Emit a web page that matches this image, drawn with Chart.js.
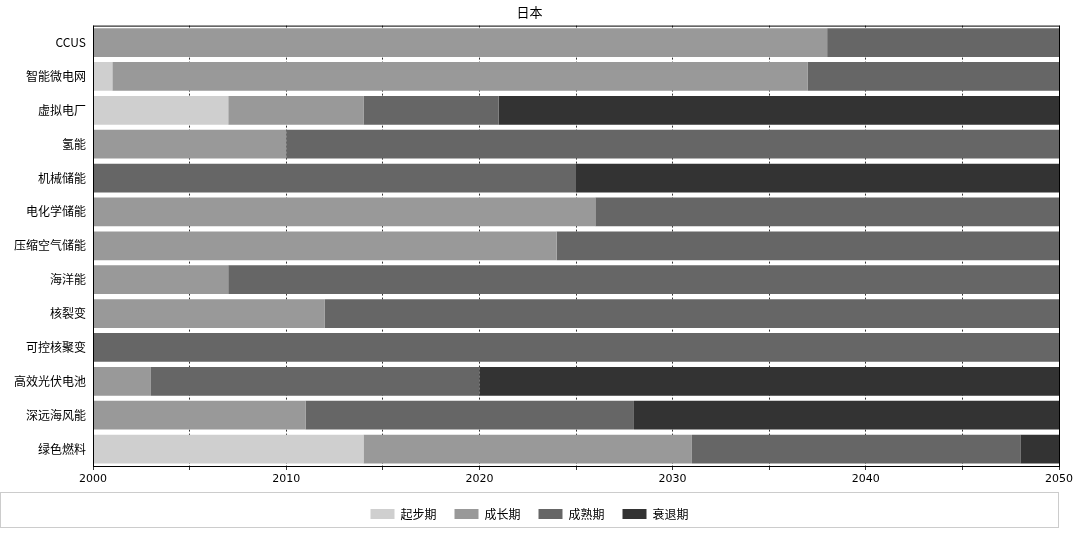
<!DOCTYPE html>
<html>
<head>
<meta charset="utf-8">
<script src="https://cdn.jsdelivr.net/npm/chart.js@4/dist/chart.umd.min.js"></script>
<style>
  body { margin: 0; background: #fff; }
  #wrap { width: 1080px; height: 536px; }
</style>
</head>
<body>
<div id="wrap"><canvas id="c"></canvas></div>
<script>
// technologies, top to bottom
const techs = ['CCUS', '智能微电网', '虚拟电厂', '氢能', '机械储能', '电化学储能', '压缩空气储能',
  '海洋能', '核裂变', '可控核聚变', '高效光伏电池', '深远海风能', '绿色燃料'];
const stageNames = ['起步期', '成长期', '成熟期', '衰退期'];
const stageColors = ['#cfcfcf', '#999999', '#666666', '#333333'];
// duration (years) of each stage, from 2000
const startYears  = [0, 1, 7, 0, 0, 0, 0, 0, 0, 0, 0, 0, 14];
const growthYears = [38, 36, 7, 10, 0, 26, 24, 7, 12, 0, 3, 11, 17];
const matureYears = [12, 13, 7, 40, 25, 24, 26, 43, 38, 50, 17, 17, 17];
const declineYears = [0, 0, 29, 0, 25, 0, 0, 0, 0, 0, 30, 22, 2];
const stageData = [startYears, growthYears, matureYears, declineYears];

const font = "'DejaVu Sans', 'Noto Sans CJK SC', sans-serif";
const cjk = "'Noto Sans CJK SC', sans-serif";

// black frame around plot area and legend
const frames = {
  id: 'frames',
  afterDraw(chart) {
    const ctx = chart.ctx, a = chart.chartArea, lg = chart.legend;
    ctx.save();
    ctx.strokeStyle = '#000';
    ctx.lineWidth = 1;
    ctx.strokeRect(a.left + 0.5, a.top + 0.5, a.right - a.left, a.bottom - a.top);
    ctx.strokeStyle = '#ccc';
    ctx.strokeRect(lg.left + 0.5, lg.top + 2.5, lg.width - 1, lg.height - 5);
    ctx.restore();
  }
};

new Chart(document.getElementById('c'), {
  type: 'bar',
  data: {
    labels: techs,
    datasets: stageNames.map((name, i) => ({
      label: name,
      data: stageData[i],
      backgroundColor: stageColors[i],
      borderWidth: 0,
      barPercentage: 0.85,
      categoryPercentage: 1
    }))
  },
  options: {
    indexAxis: 'y',
    responsive: true,
    maintainAspectRatio: false,
    animation: false,
    layout: { padding: { left: 0, right: 21, top: 0, bottom: 6 } },
    scales: {
      x: {
        stacked: true,
        min: 0,
        max: 50,
        grid: { color: '#000', lineWidth: 0.8, drawTicks: true, tickLength: 4, tickColor: '#000' },
        border: { dash: [2, 2], color: '#000' },
        ticks: {
          stepSize: 5,
          autoSkip: false,
          maxRotation: 0,
          color: '#000',
          font: { family: font, size: 11 },
          callback: v => (v % 10 === 0 ? String(2000 + v) : '')
        },
        afterFit: s => { s.height = 24; }
      },
      y: {
        stacked: true,
        grid: { display: false, drawTicks: true, tickLength: 4 },
        ticks: { color: '#000', font: { family: cjk, size: 12 } },
        afterFit: s => { s.width = 93; }
      }
    },
    plugins: {
      title: {
        display: true,
        text: '日本',
        color: '#000',
        font: { family: cjk, size: 13, weight: 'normal' },
        padding: { top: 4, bottom: 6 }
      },
      legend: {
        position: 'bottom',
        labels: {
          color: '#000',
          font: { family: cjk, size: 12 },
          boxWidth: 24,
          boxHeight: 10,
          padding: 18
        }
      },
      tooltip: { enabled: false }
    }
  },
  plugins: [frames]
});
</script>
</body>
</html>
